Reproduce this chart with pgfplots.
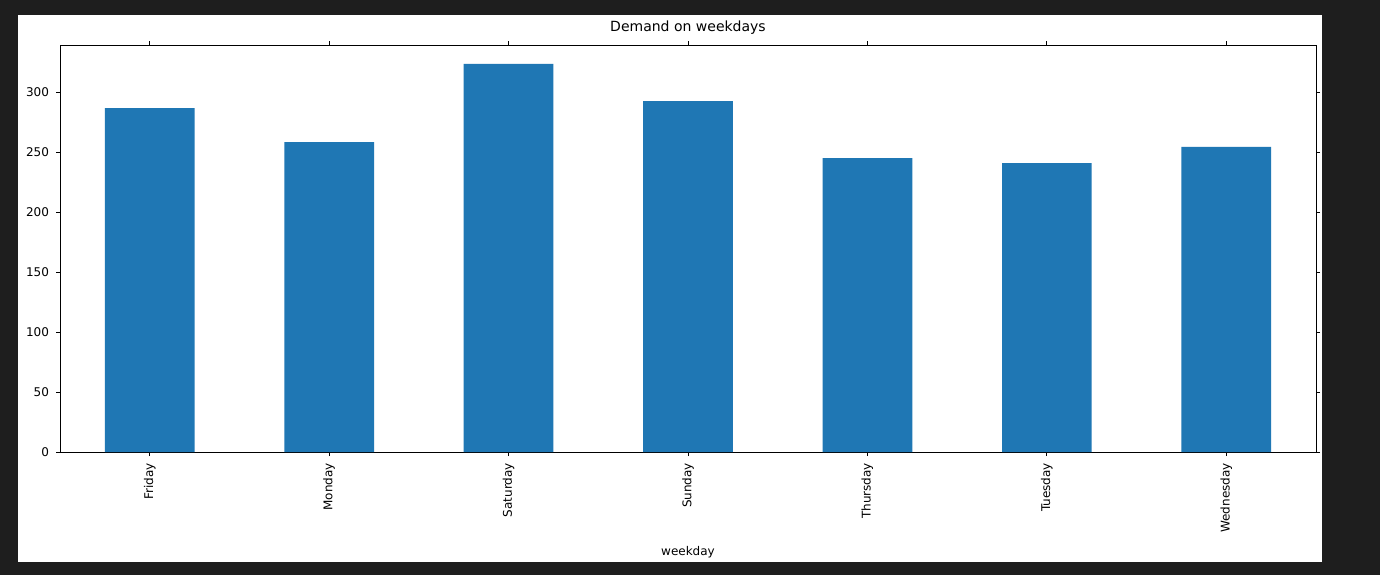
\documentclass[border=0pt]{standalone}
\usepackage{pgfplots}
\pgfplotsset{compat=1.18}
\usepackage{fontspec}
\setmainfont{DejaVu Sans}
\definecolor{mplblue}{HTML}{1F77B4}
\definecolor{darkbg}{HTML}{1E1E1E}
\begin{document}
\begin{tikzpicture}
\fill[darkbg] (-30pt,-61.5pt) rectangle (660pt,226pt);
\fill[white] (-21pt,-55pt) rectangle (631pt,218.5pt);
\begin{axis}[
  at={(0,0)}, anchor=south west,
  scale only axis, width=628pt, height=203.5pt,
  xmin=-0.5, xmax=6.5, ymin=0, ymax=339.2,
  xtick=data,
  xticklabels={Friday,Monday,Saturday,Sunday,Thursday,Tuesday,Wednesday},
  x tick label style={rotate=90, anchor=east},
  ytick={0,50,100,150,200,250,300},
  tick label style={font=\fontsize{6}{7}\selectfont},
  /pgf/number format/assume math mode=true,
  xlabel={weekday}, xlabel style={font=\fontsize{6}{7}\selectfont},
  title={Demand on weekdays}, title style={font=\fontsize{7}{8}\selectfont, yshift=-4pt},
  tick align=outside, tick style={black, thin},
  major tick length=2pt,
  axis line style={black, thin},
  ybar, bar width=0.5,
]
\addplot[fill=mplblue, draw=none] coordinates {
(0,286.5) (1,258.3) (2,323.4) (3,292.5) (4,245) (5,240.7) (6,254.2)};
\end{axis}
\end{tikzpicture}
\end{document}
